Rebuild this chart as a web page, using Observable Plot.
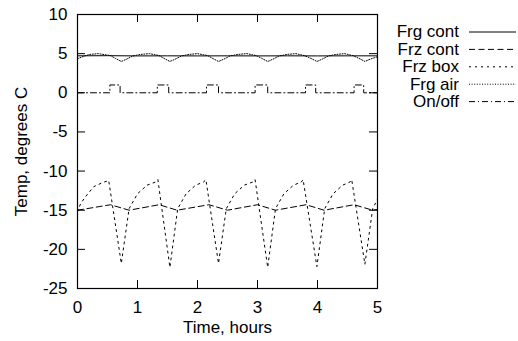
<!DOCTYPE html>
<html><head><meta charset="utf-8">
<script src="https://cdn.jsdelivr.net/npm/d3@7"></script>
<script src="https://cdn.jsdelivr.net/npm/@observablehq/plot@0.6"></script>
<style>body{margin:0;background:#fff}</style>
</head><body><div id="chart"></div>
<script>
// ---- data ----
const xTicks = [0, 1, 2, 3, 4, 5];
const yTicks = [-25, -20, -15, -10, -5, 0, 5, 10];
const seriesNames = ["Frg cont", "Frz cont", "Frz box", "Frg air", "On/off"];

const frgContT = [0, 0.5, 1, 1.5, 2, 2.5, 3, 3.5, 4, 4.5, 5];
const frgCont  = [4.72, 4.74, 4.71, 4.72, 4.71, 4.72, 4.71, 4.72, 4.71, 4.72, 4.72];

const frzContT = [0, 0.55, 0.86, 1.36, 1.66, 2.19, 2.5, 3.0, 3.3, 3.81, 4.11, 4.61, 4.92, 5.0];
const frzCont  = [-15.0, -14.3, -15.0, -14.3, -15.0, -14.3, -15.0, -14.3, -15.0, -14.3, -15.0, -14.3, -15.0, -14.9];

const frzBoxT = [0, 0.05, 0.13, 0.27, 0.41, 0.52, 0.73, 0.86, 1.0, 1.16, 1.30, 1.34, 1.54, 1.67, 1.81, 1.97, 2.10, 2.14,
                 2.35, 2.48, 2.62, 2.78, 2.92, 2.96, 3.17, 3.30, 3.44, 3.60, 3.73, 3.76, 3.99, 4.12, 4.26, 4.42, 4.54, 4.57,
                 4.79, 4.92, 5.0];
const frzBox  = [-15.2, -14.2, -13.3, -12.0, -11.5, -11.2, -21.8, -14.8, -12.9, -11.8, -11.4, -11.1, -22.3, -14.8, -12.9, -11.8, -11.4, -11.1,
                 -21.8, -14.8, -12.9, -11.8, -11.4, -11.1, -22.3, -14.8, -12.9, -11.8, -11.4, -11.1, -22.2, -14.8, -12.9, -11.8, -11.4, -11.1,
                 -21.9, -14.8, -13.6];

const frgAirT = [0, 0.1, 0.2, 0.35, 0.55, 0.63, 0.73, 0.82, 0.92, 1.05, 1.2, 1.36, 1.44, 1.54, 1.63, 1.73, 1.86, 2.0, 2.17, 2.25, 2.35,
                 2.44, 2.54, 2.67, 2.82, 2.98, 3.07, 3.17, 3.26, 3.36, 3.49, 3.64, 3.78, 3.89, 3.99, 4.08, 4.18, 4.31, 4.45, 4.59,
                 4.69, 4.79, 4.88, 5.0];
const frgAir  = [4.35, 4.65, 4.9, 5.0, 4.75, 4.4, 4.0, 4.3, 4.7, 4.9, 5.0, 4.75, 4.4, 4.0, 4.3, 4.7, 4.9, 5.0, 4.75, 4.4, 4.0,
                 4.3, 4.7, 4.9, 5.0, 4.75, 4.4, 4.0, 4.3, 4.7, 4.9, 5.0, 4.75, 4.4, 4.0, 4.3, 4.7, 4.9, 5.0, 4.75,
                 4.4, 4.0, 4.3, 4.6];

const onOffT = [0, 0.54, 0.71, 1.33, 1.52, 2.15, 2.35, 2.96, 3.17, 3.80, 3.97, 4.61, 4.77, 5.0];
const onOff  = [0, 1, 0, 1, 0, 1, 0, 1, 0, 1, 0, 1, 0, 0];

// ---- layout ----
const W = 518, H = 341, mL = 77, mR = 141, mT = 14, mB = 53;
const fw = W - mL - mR, fh = H - mT - mB, tk = 8;
const FONT = "'Liberation Sans', Arial, Helvetica, sans-serif";

const rows = (t, v) => t.map((d, i) => ({t: d, v: v[i]}));
const seriesData = [rows(frgContT, frgCont), rows(frzContT, frzCont), rows(frzBoxT, frzBox), rows(frgAirT, frgAir), rows(onOffT, onOff)];
const dashes = [null, "6,3.5", "2,4", "1,1.6", "6,3,1,3"];
const curves = ["linear", "linear", "linear", "linear", "step-after"];

const lineMarks = seriesData.map((d, i) => Plot.line(d, {
  x: "t", y: "v", stroke: "#000", strokeWidth: 1, curve: curves[i],
  ...(dashes[i] ? {strokeDasharray: dashes[i]} : {})
}));

const chart = Plot.plot({
  width: W, height: H, marginLeft: mL, marginRight: mR, marginTop: mT, marginBottom: mB,
  style: {fontFamily: FONT, fontSize: "17px", background: "#fff", color: "#000", overflow: "visible"},
  x: {domain: [0, 5]},
  y: {domain: [-25, 10]},
  marks: [
    Plot.axisX(xTicks, {tickSize: 0, tickPadding: 12, tickFormat: d => String(d), label: "Time, hours", labelAnchor: "center", labelOffset: 44, labelArrow: "none"}),
    Plot.axisY(yTicks, {tickSize: 0, tickPadding: 10, tickFormat: d => String(d), label: "Temp, degrees C", labelAnchor: "center", labelOffset: 63, labelArrow: "none"}),
    Plot.tickY(yTicks, {y: d => d, insetRight: fw - tk, stroke: "#000"}),
    Plot.tickY(yTicks, {y: d => d, insetLeft: fw - tk, stroke: "#000"}),
    Plot.tickX(xTicks, {x: d => d, insetTop: fh - tk, stroke: "#000"}),
    Plot.tickX(xTicks, {x: d => d, insetBottom: fh - tk, stroke: "#000"}),
    ...lineMarks,
    Plot.frame({stroke: "#000", strokeWidth: 1.2})
  ]
});

// legend (key) in the right margin
const svg = d3.select(chart);
const key = svg.append("g").attr("font-family", FONT).attr("font-size", 17);
seriesNames.forEach((name, i) => {
  const y = 31.5 + i * 17.4;
  key.append("text").attr("x", 459).attr("y", y).attr("dy", "0.35em").attr("text-anchor", "end").attr("fill", "#000").text(name);
  const ln = key.append("line").attr("x1", 469).attr("x2", 516).attr("y1", y + 0.5).attr("y2", y + 0.5)
    .attr("stroke", "#000").attr("stroke-width", 1);
  if (dashes[i]) ln.attr("stroke-dasharray", dashes[i]);
});

document.getElementById("chart").appendChild(chart);
</script>
</body></html>
